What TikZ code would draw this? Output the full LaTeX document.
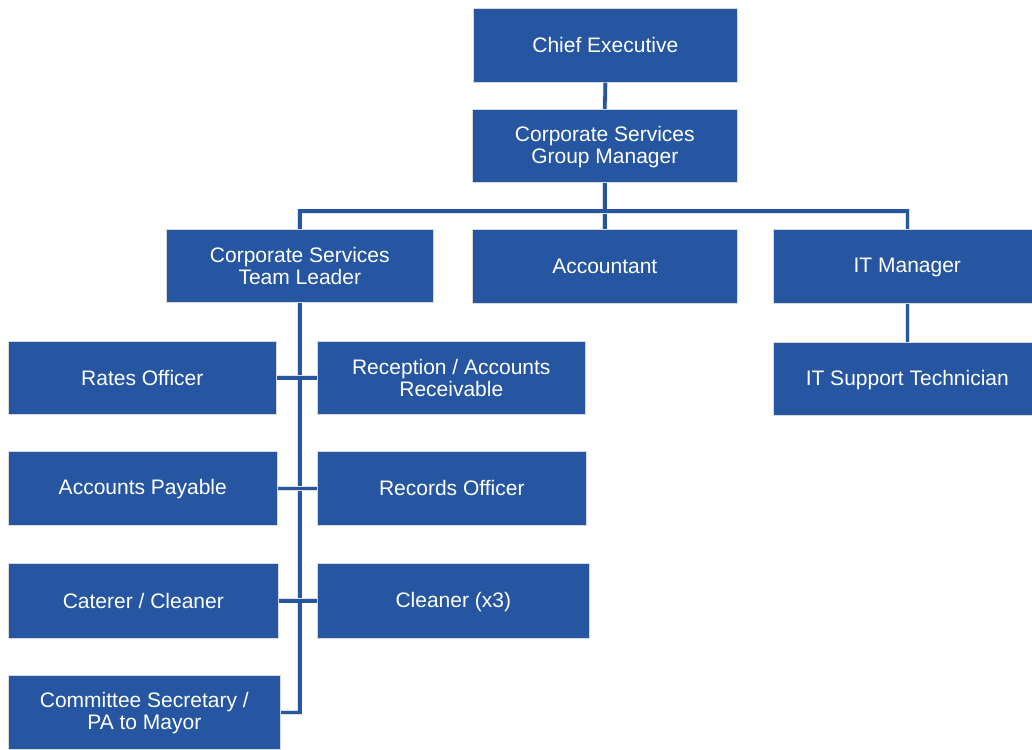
\documentclass[tikz,border=0pt]{standalone}
\usepackage{fontspec}
\setmainfont{Liberation Sans}
\definecolor{boxblue}{RGB}{38,86,161}
\begin{document}
\begin{tikzpicture}[x=1pt,y=-1pt,
  box/.style={fill=boxblue, draw=gray!30, line width=0.6pt, text=white,
    font=\fontsize{21}{22}\selectfont, align=center, inner sep=0pt, anchor=north west},
  conn/.style={draw=boxblue, line width=3.6pt, preaction={draw=gray!25, line width=5pt}}]
\useasboundingbox (0,0) rectangle (1032,749);
\newcommand\bx[6]{\node[box, minimum width=#4pt, minimum height=#5pt] (#1) at (#2,#3) {#6};}
\newcommand\sk{\rule[-2.5pt]{0pt}{20pt}}
\bx{ce}{473}{8}{264}{74}{\sk Chief Executive}
\bx{csgm}{472}{109}{265}{73}{\sk Corporate Services\\\sk Group Manager}
\bx{cstl}{166}{229}{267}{73}{\sk Corporate Services\\\sk Team Leader}
\bx{acc}{472}{229}{265}{74}{\sk Accountant}
\bx{itm}{773}{229}{268}{74}{\sk IT Manager}
\bx{its}{773}{342}{268}{73}{\sk IT Support Technician}
\bx{rates}{8}{341}{268}{73}{\sk Rates  Officer}
\bx{recep}{317}{341}{268}{73}{\sk Reception / Accounts\\\sk Receivable}
\bx{ap}{8}{451}{269}{74}{\sk Accounts Payable}
\bx{rec}{317}{451}{269}{74}{\sk Records Officer}
\bx{cat}{8}{563}{270}{75}{\sk Caterer / Cleaner}
\bx{cl}{317}{563}{272}{75}{\sk Cleaner (x3)}
\bx{com}{8}{675}{272}{74}{\sk Committee  Secretary /\\\sk PA to Mayor}
\draw[conn] (ce.south) -- (csgm.north);
\draw[conn] (csgm.south) -- (acc.north);
\draw[conn] (cstl.north) -- ++(0,-18) -| (itm.north);
\draw[conn] (itm.south) -- (its.north);
\draw[conn] (cstl.south) |- (com.east);
\draw[conn] (rates.east) -- (recep.west);
\draw[conn] (ap.east) -- (rec.west);
\draw[conn] (cat.east) -- (cl.west);
\end{tikzpicture}
\end{document}
